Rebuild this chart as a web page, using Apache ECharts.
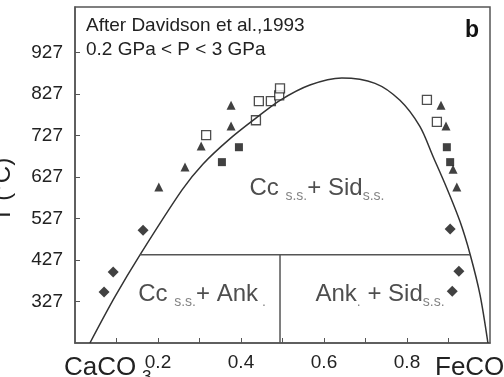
<!DOCTYPE html>
<html>
<head>
<meta charset="utf-8">
<script src="https://cdn.jsdelivr.net/npm/echarts@6/dist/echarts.min.js"></script>
<style>
  html, body { margin: 0; padding: 0; background: #fff; }
  #chart { width: 504px; height: 377px; }
</style>
</head>
<body>
<div id="chart"></div>
<script>
// solvus curve (X FeCO3, T in °C)
const solvusX = [0.036, 0.096, 0.157, 0.258, 0.308, 0.373, 0.436, 0.494, 0.566, 0.643, 0.723, 0.783, 0.831, 0.863, 0.896, 0.928, 0.952, 0.976, 0.995]
const solvusT = [227, 338, 440, 596, 658, 719, 769, 812, 849, 866, 853, 812, 749, 676, 600, 519, 441, 343, 227]

// phase boundaries
const boundaryX = [0.157, 0.952]
const boundaryT = [440, 440]
const divideX = [0.494, 0.494]
const divideT = [227, 440]

// experimental points
const openSquares = [[0.316, 728], [0.436, 764], [0.443, 810], [0.472, 810], [0.492, 824], [0.494, 841], [0.848, 813], [0.872, 760]]
const filledSquares = [[0.354, 663], [0.395, 699], [0.896, 699], [0.904, 663]]
const triangles = [[0.202, 603], [0.265, 651], [0.304, 702], [0.376, 750], [0.376, 800], [0.882, 800], [0.894, 750], [0.911, 646], [0.920, 603]]
const diamonds = [[0.070, 350], [0.092, 398], [0.164, 499], [0.904, 502], [0.925, 400], [0.909, 352]]

// ticks
const xTicks = [0.1, 0.2, 0.3, 0.4, 0.5, 0.6, 0.7, 0.8, 0.9]
const xLabels = [0.2, 0.4, 0.6, 0.8]
const yTicks = [327, 427, 527, 627, 727, 827, 927]

const FONT = 'Liberation Sans'
const zip = (a, b) => a.map((v, i) => [v, b[i]])

const chart = echarts.init(document.getElementById('chart'))

const rich = {
  big: { fontFamily: FONT, fontSize: 24, color: '#222', lineHeight: 30 },
  sub: { fontFamily: FONT, fontSize: 14, color: '#666', lineHeight: 6, verticalAlign: 'bottom' }
}

const option = {
  animation: false,
  grid: {
    left: 75, right: 14, top: 7, bottom: 34, outerBoundsMode: 'none',
    show: true, borderColor: '#555', borderWidth: 1.5
  },
  xAxis: {
    type: 'value', min: 0, max: 1, interval: 0.1,
    splitLine: { show: false },
    axisLine: { lineStyle: { color: '#555', width: 1.5 } },
    axisTick: { inside: true, length: 5, customValues: xTicks, lineStyle: { color: '#555' } },
    axisLabel: { customValues: xLabels, margin: 10, fontFamily: FONT, fontSize: 19, color: '#222' }
  },
  yAxis: {
    type: 'value', min: 227, max: 1037, interval: 100,
    splitLine: { show: false },
    axisLine: { lineStyle: { color: '#555', width: 1.5 } },
    axisTick: { inside: true, length: 5, customValues: yTicks, lineStyle: { color: '#555' } },
    axisLabel: { customValues: yTicks, margin: 12, fontFamily: FONT, fontSize: 19, color: '#222' }
  },
  graphic: [
    { type: 'text', left: 86, top: 16, style: { text: 'After Davidson et al.,1993', font: '19px "Liberation Sans"', fill: '#222' } },
    { type: 'text', left: 86, top: 40, style: { text: '0.2 GPa < P < 3 GPa', font: '19px "Liberation Sans"', fill: '#222' } },
    { type: 'text', left: 465, top: 19, style: { text: 'b', font: 'bold 23px "Liberation Sans"', fill: '#111' } },
    // end-member names, subscripts partly cut by the bottom edge
    { type: 'text', left: 64, top: 355, style: { text: 'CaCO', font: '26px "Liberation Sans"', fill: '#222' } },
    { type: 'text', left: 142, top: 369, style: { text: '3', font: '17px "Liberation Sans"', fill: '#222' } },
    { type: 'text', left: 435, top: 355, style: { text: 'FeCO', font: '26px "Liberation Sans"', fill: '#222' } },
    // axis title, cut by the left edge as in the source figure
    {
      type: 'text', x: 15, y: 190, rotation: Math.PI / 2,
      style: { text: 'T (°C)', font: '24px "Liberation Sans"', fill: '#222', align: 'center', verticalAlign: 'bottom' }
    }
  ],
  series: [
    {
      type: 'line', data: zip(solvusX, solvusT), smooth: 0.3, showSymbol: false,
      lineStyle: { color: '#333', width: 1.5 }
    },
    {
      type: 'line', data: zip(boundaryX, boundaryT), showSymbol: false,
      lineStyle: { color: '#555', width: 1.5 }
    },
    {
      type: 'line', data: zip(divideX, divideT), showSymbol: false,
      lineStyle: { color: '#555', width: 1.5 }
    },
    {
      type: 'scatter', data: openSquares, symbol: 'rect', symbolSize: 9,
      itemStyle: { color: '#fff', borderColor: '#222', borderWidth: 1.3 }
    },
    {
      type: 'scatter', data: filledSquares, symbol: 'rect', symbolSize: 8,
      itemStyle: { color: '#111' }
    },
    {
      type: 'scatter', data: triangles, symbol: 'triangle', symbolSize: 9,
      itemStyle: { color: '#111' }
    },
    {
      type: 'scatter', data: diamonds, symbol: 'diamond', symbolSize: 11,
      itemStyle: { color: '#111' }
    },
    {
      // field labels
      type: 'scatter', symbolSize: 0, silent: true,
      label: { show: true, position: 'inside', rich: rich },
      data: [
        { value: [0.583, 600], label: { formatter: '{big|Cc }{sub|s.s.}{big|+ Sid}{sub|s.s.}' } },
        { value: [0.306, 345], label: { formatter: '{big|Cc }{sub|s.s.}{big|+ Ank}{sub| .}' } },
        { value: [0.735, 345], label: { formatter: '{big|Ank}{sub|.}{big| + Sid}{sub|s.s.}' } }
      ]
    }
  ]
}

chart.setOption(option)
</script>
</body>
</html>
